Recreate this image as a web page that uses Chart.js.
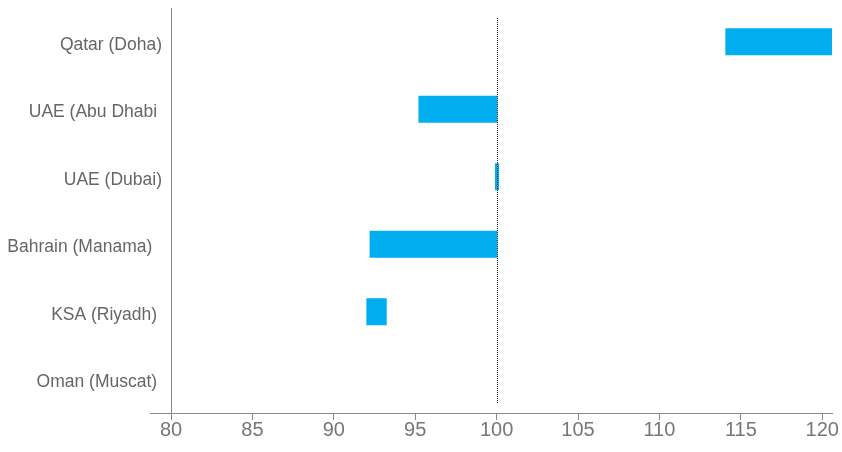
<!DOCTYPE html>
<html>
<head>
<meta charset="utf-8">
<script src="https://cdn.jsdelivr.net/npm/chart.js@4"></script>
<style>
  html, body { margin: 0; padding: 0; background: #fff; }
  #wrap { width: 842px; height: 452px; }
</style>
</head>
<body>
<div id="wrap"><canvas id="barChart" width="842" height="452"></canvas></div>
<script>
const cities = ["Qatar (Doha)", "UAE (Abu Dhabi ", "UAE (Dubai)", "Bahrain (Manama)  ", "KSA (Riyadh) ", "Oman (Muscat) "];
const rangeStart = [114.05, 95.2, 99.9, 92.2, 92.0, null];
const rangeEnd = [120.6, 100.05, 100.15, 100.05, 93.25, null];
const refValue = 100;
const axisMin = 80;
const axisMax = 120.6;

const barData = cities.map((c, i) => rangeStart[i] == null ? null : [rangeStart[i], rangeEnd[i]]);

// dotted reference line at 100 + small stub left of the x axis
const refLine = {
  id: "refLine",
  afterDatasetsDraw(chart) {
    const { ctx, chartArea, scales } = chart;
    const x = Math.round(scales.x.getPixelForValue(refValue)) + 0.5;
    ctx.save();
    ctx.strokeStyle = "#222";
    ctx.lineWidth = 1;
    ctx.setLineDash([1, 1]);
    ctx.beginPath();
    ctx.moveTo(x, chartArea.top + 10);
    ctx.lineTo(x, chartArea.bottom - 10);
    ctx.stroke();
    ctx.setLineDash([]);
    ctx.strokeStyle = "#888";
    ctx.beginPath();
    ctx.moveTo(chartArea.left - 21, chartArea.bottom + 0.5);
    ctx.lineTo(chartArea.left, chartArea.bottom + 0.5);
    ctx.stroke();
    ctx.restore();
  }
};

new Chart(document.getElementById("barChart").getContext("2d"), {
  type: "bar",
  data: {
    labels: cities,
    datasets: [{
      data: barData,
      backgroundColor: "#00AEEF",
      borderWidth: 0,
      barPercentage: 0.4,
      categoryPercentage: 1
    }]
  },
  options: {
    indexAxis: "y",
    responsive: false,
    animation: false,
    layout: { padding: { top: 8, right: 10, left: 0, bottom: 0 } },
    plugins: { legend: { display: false }, tooltip: { enabled: false } },
    scales: {
      x: {
        min: axisMin,
        max: axisMax,
        afterFit(scale) { scale.height = 39; },
        grid: { drawOnChartArea: false, tickLength: 7, color: "#888" },
        border: { color: "#888" },
        ticks: {
          stepSize: 5,
          includeBounds: false,
          padding: -2,
          color: "#777",
          font: { family: "Liberation Sans, Arial", size: 20 }
        }
      },
      y: {
        afterFit(scale) {
          scale.width = 171;
          scale.paddingTop = 0;
          scale.paddingBottom = 0;
        },
        grid: { display: false, drawTicks: false },
        border: { color: "#888" },
        ticks: {
          padding: 9,
          labelOffset: 3,
          color: "#666",
          font: { family: "Liberation Sans, Arial", size: 17.5 }
        }
      }
    }
  },
  plugins: [refLine]
});
</script>
</body>
</html>
